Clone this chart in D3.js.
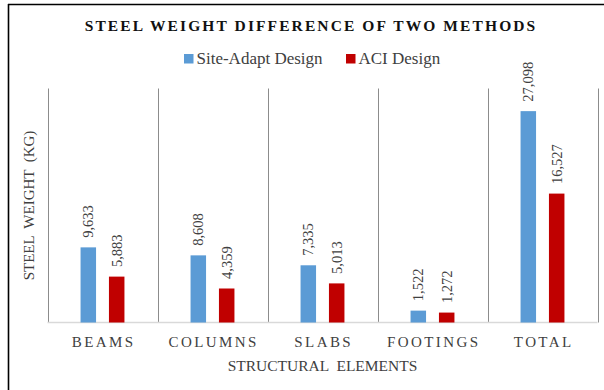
<!DOCTYPE html>
<html>
<head>
<meta charset="utf-8">
<script src="https://cdn.jsdelivr.net/npm/d3@7"></script>
<style>
  html, body { margin: 0; padding: 0; background: #fff; }
  svg { display: block; }
  text { font-family: "Liberation Serif", "Times New Roman", serif; }
</style>
</head>
<body>
<svg id="chart" width="604" height="390"></svg>
<script>
const categories = ["BEAMS", "COLUMNS", "SLABS", "FOOTINGS", "TOTAL"];
const seriesNames = ["Site-Adapt Design", "ACI Design"];
const siteAdapt = [9633, 8608, 7335, 1522, 27098];
const aciDesign = [5883, 4359, 5013, 1272, 16527];
const colors = ["#5b9bd5", "#c00000"];
const titleText = "STEEL WEIGHT DIFFERENCE OF TWO METHODS";
const xTitle = "STRUCTURAL  ELEMENTS";
const yTitle = "STEEL  WEIGHT  (KG)";
const yMax = 30000;

const svg = d3.select("#chart");
const W = 604, H = 390;
const plot = { left: 47.5, right: 597.5, top: 88.5, bottom: 322.5 };

// border (left and top visible)
svg.append("line").attr("x1", 8.5).attr("x2", 8.5).attr("y1", 4).attr("y2", H)
  .attr("stroke", "#000").attr("stroke-width", 1.6);
svg.append("line").attr("x1", 8).attr("x2", W).attr("y1", 4.5).attr("y2", 4.5)
  .attr("stroke", "#000").attr("stroke-width", 1.6);

const x0 = d3.scaleBand().domain(categories).range([plot.left, plot.right]).padding(0);
const bw = x0.bandwidth();
const x1 = d3.scaleBand().domain(seriesNames)
  .range([bw * 0.3005, bw * 0.6995]).paddingInner(0.454).paddingOuter(0);
const y = d3.scaleLinear().domain([0, yMax]).range([plot.bottom, plot.top]);

// vertical category dividers
const bounds = categories.map(c => x0(c)).concat([plot.right]);
svg.append("g").selectAll("line").data(bounds).join("line")
  .attr("x1", d => Math.round(d) + 0.5).attr("x2", d => Math.round(d) + 0.5)
  .attr("y1", plot.top).attr("y2", plot.bottom)
  .attr("stroke", "#8c8c8c").attr("stroke-width", 1);

// baseline
svg.append("line").attr("x1", plot.left).attr("x2", plot.right)
  .attr("y1", plot.bottom).attr("y2", plot.bottom)
  .attr("stroke", "#d9d9d9").attr("stroke-width", 1.5);

// data rows
const rows = categories.map((c, i) => ({ cat: c, vals: [siteAdapt[i], aciDesign[i]] }));
const fmt = d3.format(",");

const groups = svg.append("g").selectAll("g").data(rows).join("g")
  .attr("transform", d => `translate(${x0(d.cat)},0)`);

groups.selectAll("rect").data(d => d.vals.map((v, k) => ({ key: seriesNames[k], v, k })))
  .join("rect")
  .attr("x", d => x1(d.key))
  .attr("width", x1.bandwidth())
  .attr("y", d => y(d.v))
  .attr("height", d => y(0) - y(d.v))
  .attr("fill", d => colors[d.k]);

groups.selectAll("text.val").data(d => d.vals.map((v, k) => ({ key: seriesNames[k], v, k })))
  .join("text")
  .attr("class", "val")
  .attr("transform", d => `translate(${x1(d.key) + x1.bandwidth() / 2},${y(d.v) - 9.5}) rotate(-90)`)
  .attr("text-anchor", "start")
  .attr("dy", "0.35em")
  .attr("font-size", 14.5)
  .attr("fill", "#404040")
  .text(d => fmt(d.v));

// category labels
svg.append("g").selectAll("text").data(categories).join("text")
  .attr("x", d => x0(d) + bw / 2 + 1.2)
  .attr("y", 347)
  .attr("text-anchor", "middle")
  .attr("font-size", 15)
  .attr("letter-spacing", "2.4px")
  .attr("fill", "#404040")
  .text(d => d);

// axis titles
svg.append("text")
  .attr("x", (plot.left + plot.right) / 2)
  .attr("y", 371)
  .attr("text-anchor", "middle")
  .attr("font-size", 15.5)
  .attr("fill", "#404040")
  .style("white-space", "pre")
  .text(xTitle);

svg.append("text")
  .attr("transform", `translate(33.5,${(plot.top + plot.bottom) / 2}) rotate(-90)`)
  .attr("text-anchor", "middle")
  .attr("font-size", 15)
  .attr("fill", "#404040")
  .style("white-space", "pre")
  .text(yTitle);

// title
svg.append("text")
  .attr("x", 311)
  .attr("y", 30.5)
  .attr("text-anchor", "middle")
  .attr("font-size", 15.5)
  .attr("font-weight", "bold")
  .attr("letter-spacing", "2.1px")
  .attr("fill", "#111")
  .text(titleText);

// legend
const legendItems = [
  { name: seriesNames[0], color: colors[0], x: 184 },
  { name: seriesNames[1], color: colors[1], x: 346 }
];
const lg = svg.append("g").selectAll("g").data(legendItems).join("g")
  .attr("transform", d => `translate(${d.x},0)`);
lg.append("rect").attr("x", 0).attr("y", 54).attr("width", 9.5).attr("height", 9.5)
  .attr("fill", d => d.color);
lg.append("text").attr("x", 12.5).attr("y", 64)
  .attr("font-size", 17).attr("fill", "#404040")
  .text(d => d.name);
</script>
</body>
</html>
